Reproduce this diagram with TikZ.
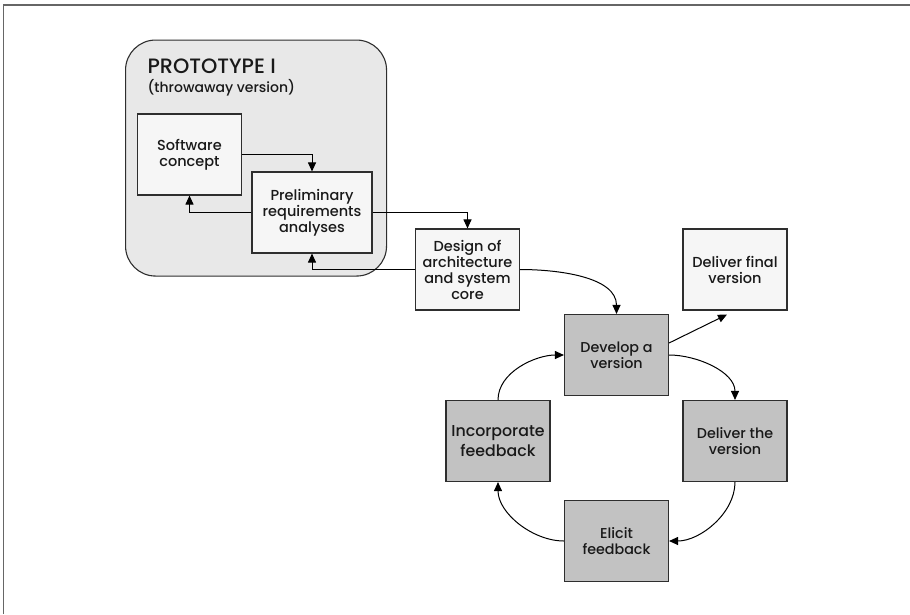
\documentclass[tikz,border=0pt]{standalone}
\usepackage{fontspec}
\setmainfont{Poppins}[UprightFont={* Medium}]
\usetikzlibrary{arrows.meta,calc}
\definecolor{linecol}{HTML}{2E2E2E}
\definecolor{paleBox}{HTML}{F6F6F6}
\definecolor{greyBox}{HTML}{C2C2C2}
\definecolor{protoFill}{HTML}{E8E8E8}
\definecolor{frameCol}{HTML}{666666}
\tikzset{
  x=1pt, y=-1pt,
  basebox/.style={draw=linecol, line width=1.1pt, minimum width=104pt, minimum height=81pt,
    align=center, inner sep=2pt, text=black!90},
  palebox/.style={basebox, fill=paleBox, font=\fontsize{14.5}{16}\selectfont},
  cyclebox/.style={basebox, fill=greyBox, font=\fontsize{14.3}{16}\selectfont},
  flow/.style={draw=black, line width=1pt, -{Triangle[width=8pt,length=9pt]}},
}
\begin{document}
\begin{tikzpicture}
\useasboundingbox (0,0) rectangle (910,614);
% outer frame (top and left edges)
\draw[frameCol, line width=1.6pt] (3.5,614) -- (3.5,5) -- (910,5);

% prototype container
\node[draw=linecol, line width=1.1pt, fill=protoFill, rounded corners=30pt,
      minimum width=261pt, minimum height=236pt, anchor=north west] (proto) at (125,39.5) {};
\node[anchor=west, font=\fontsize{20.8}{22}\selectfont, text=black!90] (ptitle) at (144,66.5) {PROTOTYPE I};
\node[anchor=west, font=\fontsize{14}{16}\selectfont, text=black!90] (psub) at (144,87.5) {(throwaway version)};

% first stage boxes
\node[palebox] (sc) at (189.5,154.5) {Software\\concept};
\node[palebox, minimum width=120pt] (pr) at (312,212.5) {Preliminary\\requirements\\analyses};
\node[palebox] (de) at (467.5,269.5) {Design of\\architecture\\and system\\core};
\node[palebox] (df) at (735,269.5) {Deliver final\\version};

% iteration cycle
\node[cyclebox] (dv) at (616.5,355) {Develop a\\version};
\node[cyclebox] (dl) at (735,441) {Deliver the\\version};
\node[cyclebox] (el) at (616.5,541) {Elicit\\feedback};
\node[cyclebox, font=\fontsize{15.8}{19.5}\selectfont] (inc) at (498,441) {Incorporate\\feedback};

% elbow connectors
\draw[flow] (sc.east) -| (pr.north);
\draw[flow] (pr.west) -| (sc.south);
\draw[flow] (pr.east) -| (de.north);
\draw[flow] (de.west) -| (pr.south);

% curved connectors
\draw[flow] (de.east) to[out=0, in=90, looseness=0.9] (dv.north);
\draw[flow] ($(dv.east)+(0,-12)$) -- ($(df.south)+(-8,4)$);
\draw[flow] (dv.east) to[out=0, in=90, looseness=0.9] (dl.north);
\draw[flow] (dl.south) to[out=-90, in=0, looseness=0.9] (el.east);
\draw[flow] (el.west) to[out=180, in=-90, looseness=0.9] (inc.south);
\draw[flow] (inc.north) to[out=90, in=180, looseness=0.9] (dv.west);
\end{tikzpicture}
\end{document}
